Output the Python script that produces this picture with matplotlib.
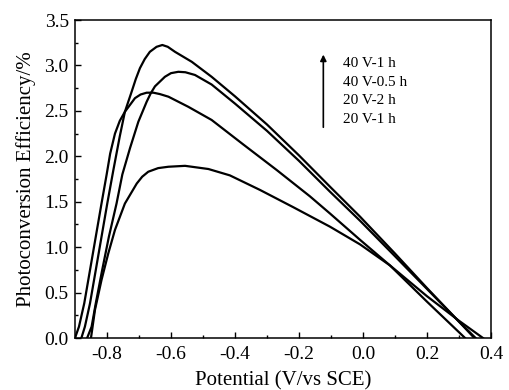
import matplotlib
matplotlib.use('Agg')
import matplotlib.pyplot as plt
from matplotlib.ticker import MultipleLocator

plt.rcParams['font.family'] = ['Liberation Serif', 'DejaVu Serif']
plt.rcParams['mathtext.fontset'] = 'stix'

# data
# 40 V-1 h
pot_a = [-0.880, -0.869, -0.853, -0.835, -0.817, -0.799, -0.780, -0.760, -0.744,
         -0.723, -0.710, -0.697, -0.682, -0.666, -0.645, -0.627, -0.610, -0.5875,
         -0.535, -0.473, -0.40, -0.30, -0.20, -0.103, -0.009, 0.10, 0.20, 0.30, 0.348]
eff_a = [0.0, 0.125, 0.382, 0.748, 1.115, 1.482, 1.849, 2.22, 2.49,
         2.71, 2.85, 2.97, 3.07, 3.15, 3.205, 3.225, 3.205, 3.15,
         3.04, 2.875, 2.66, 2.35, 2.01, 1.665, 1.335, 0.93, 0.55, 0.18, 0.0]

# 40 V-0.5 h
pot_b = [-0.862, -0.848, -0.835, -0.815, -0.794, -0.770, -0.752, -0.728, -0.702,
         -0.676, -0.663, -0.650, -0.619, -0.600, -0.577, -0.555, -0.525, -0.473,
         -0.40, -0.30, -0.20, -0.103, -0.009, 0.10, 0.20, 0.30, 0.352]
eff_b = [0.0, 0.125, 0.382, 0.748, 1.115, 1.482, 1.80, 2.09, 2.38,
         2.60, 2.695, 2.77, 2.875, 2.915, 2.93, 2.925, 2.895, 2.79,
         2.58, 2.28, 1.95, 1.61, 1.29, 0.90, 0.54, 0.18, 0.0]

# 20 V-2 h
pot_c = [-0.900, -0.8875, -0.871, -0.853, -0.835, -0.817, -0.801, -0.790, -0.775,
         -0.760, -0.744, -0.7125, -0.695, -0.676, -0.655, -0.635, -0.608, -0.546,
         -0.473, -0.374, -0.27, -0.166, -0.103, -0.009, 0.084, 0.20, 0.319]
eff_c = [0.0, 0.125, 0.382, 0.748, 1.115, 1.482, 1.80, 2.03, 2.25,
         2.39, 2.49, 2.64, 2.68, 2.70, 2.70, 2.685, 2.656, 2.545,
         2.40, 2.13, 1.85, 1.56, 1.37, 1.08, 0.80, 0.40, 0.0]

# 20 V-1 h
pot_d = [-0.850, -0.8375, -0.817, -0.796, -0.775, -0.744, -0.707, -0.690, -0.671,
         -0.640, -0.608, -0.556, -0.483, -0.416, -0.322, -0.218, -0.103, -0.009,
         0.084, 0.20, 0.30, 0.375]
eff_d = [0.0, 0.31, 0.64, 0.93, 1.19, 1.48, 1.70, 1.775, 1.83,
         1.87, 1.885, 1.895, 1.86, 1.79, 1.63, 1.44, 1.225, 1.03,
         0.80, 0.46, 0.19, 0.0]

labels = ['40 V-1 h', '40 V-0.5 h', '20 V-2 h', '20 V-1 h']

fig = plt.figure(figsize=(5.09, 3.90), dpi=100)
ax = fig.add_axes([0.1473, 0.1333, 0.8173, 0.8154])

for p, e in [(pot_a, eff_a), (pot_b, eff_b), (pot_c, eff_c), (pot_d, eff_d)]:
    ax.plot(p, e, color='black', lw=1.6)

ax.set_xlim(-0.9, 0.4)
ax.set_ylim(0.0, 3.5)
ax.xaxis.set_major_locator(MultipleLocator(0.2))
ax.xaxis.set_minor_locator(MultipleLocator(0.1))
ax.yaxis.set_major_locator(MultipleLocator(0.5))
ax.yaxis.set_minor_locator(MultipleLocator(0.25))
ax.set_xticks([-0.8, -0.6, -0.4, -0.2, 0.0, 0.2, 0.4])
ax.set_xticklabels(['-0.8', '-0.6', '-0.4', '-0.2', '0.0', '0.2', '0.4'])
ax.tick_params(which='both', direction='in', top=False, right=False, labelsize=14, width=1)
ax.tick_params(which='major', length=4)
ax.tick_params(axis='x', which='major', pad=6)
ax.tick_params(axis='y', which='major', pad=4.5)
ax.tick_params(which='minor', length=2)
for s in ax.spines.values():
    s.set_linewidth(1.1)

ax.set_xlabel('Potential (V/vs SCE)', fontsize=15, labelpad=6)
ax.set_ylabel('Photoconversion Efficiency/%', fontsize=15, labelpad=6)

# arrow + labels
ax.annotate('', xy=(0.597, 0.90), xytext=(0.597, 0.654), xycoords='axes fraction',
            arrowprops=dict(arrowstyle='-|>', color='black', lw=1.2, mutation_scale=9))
for i, lab in enumerate(labels):
    ax.text(0.644, 0.864 - i * 0.059, lab, transform=ax.transAxes,
            fontsize=11, va='center', ha='left')

fig.savefig('out.png', dpi=100)
